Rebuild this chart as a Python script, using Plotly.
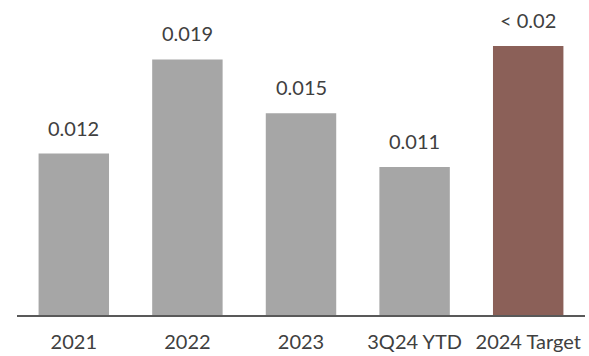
import plotly.graph_objects as go

categories = ["2021", "2022", "2023", "3Q24 YTD", "2024 Target"]
values = [0.012, 0.019, 0.015, 0.011, 0.02]
value_labels = ["0.012", "0.019", "0.015", "0.011", "< 0.02"]
bar_colors = ["#a6a6a6", "#a6a6a6", "#a6a6a6", "#a6a6a6", "#8b6058"]

fig = go.Figure(
    go.Bar(
        x=categories,
        y=values,
        marker=dict(color=bar_colors, line=dict(width=0)),
        hoverinfo="skip",
    )
)

# value labels above each bar (category axis positions by index)
for i, (val, lab) in enumerate(zip(values, value_labels)):
    fig.add_annotation(
        x=i, y=val, text=lab, showarrow=False,
        yanchor="bottom", yshift=12,
        font=dict(family="Lato", size=20, color="#404040"),
    )

fig.update_layout(
    width=589, height=356,
    margin=dict(l=17, r=4, t=0, b=41),
    paper_bgcolor="white", plot_bgcolor="white",
    bargap=0.38,
    showlegend=False,
    xaxis=dict(
        type="category", range=[-0.5, len(categories) - 0.5],
        showline=True, linecolor="#595959", linewidth=2,
        showgrid=False, ticks="", ticklabelstandoff=8,
        tickfont=dict(family="Lato", size=20, color="#404040"),
    ),
    yaxis=dict(range=[0, 0.02342], visible=False, showgrid=False),
)

fig.write_html("out.html")
